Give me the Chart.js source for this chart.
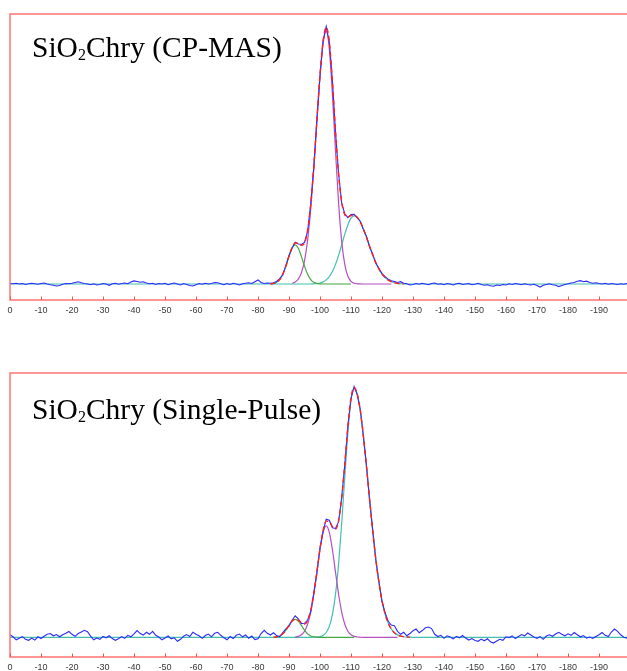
<!DOCTYPE html>
<html><head><meta charset="utf-8">
<script src="https://cdn.jsdelivr.net/npm/chart.js@4.4.1/dist/chart.umd.min.js"></script>
<style>
html,body{margin:0;padding:0;width:627px;height:671px;overflow:hidden;background:#fff;}
#wrap{position:relative;width:627px;height:671px;overflow:hidden;}
canvas{position:absolute;left:0;}
#c1{top:0px;}
#c2{top:359px;}
.ttl{position:absolute;left:32px;font-family:'Liberation Serif','Times New Roman',serif;font-size:29.5px;line-height:30px;color:#000;white-space:nowrap;}
.ttl .sub{font-size:16px;line-height:0;position:relative;top:3px;}
#t1{top:31.7px;}
#t2{top:394.3px;}
</style></head>
<body><div id="wrap">
<canvas id="c1" width="634" height="320"></canvas>
<canvas id="c2" width="634" height="318"></canvas>
<div class="ttl" id="t1">SiO<span class="sub">2</span>Chry (CP-MAS)</div>
<div class="ttl" id="t2">SiO<span class="sub">2</span>Chry (Single-Pulse)</div>
</div>
<script>
// ---------- x grid (ppm) ----------
const range = (a, b) => { const r = []; for (let v = a; v >= b; v--) r.push(v); return r; };
const tickValues = range(0, -200).filter(v => v % 10 === 0);

// ---------- Panel 1 : SiO2Chry (CP-MAS) ----------
const cpDataPpm = range(0, -200);
const cpData = [
 0.2,0.1,0.3,0.0,0.2,-0.2,0.1,0.3,0.1,-0.1,
 0.2,0.4,0.0,-0.3,-0.5,-0.8,-0.6,-0.1,0.2,0.1,
 0.3,0.6,0.9,0.5,0.2,0.0,-0.3,0.1,-0.4,-0.2,
 0.2,0.0,-0.5,0.1,0.3,-0.1,0.2,0.4,0.1,0.8,
 1.2,1.0,0.7,0.9,0.4,0.1,0.3,-0.2,0.2,0.0,
 0.3,-0.3,0.1,0.4,0.0,-0.4,0.2,-0.2,-0.6,-0.8,
 -0.3,0.2,-0.1,0.3,0.0,0.2,0.6,0.5,0.1,-0.3,
 0.2,-0.2,0.3,0.0,-0.4,0.1,0.3,0.5,0.2,0.9,
 1.6,0.6,0.2,0.4,0.3,0.5,1.0,2.1,3.6,7.3,
 11.2,14.1,16.4,15.7,15.5,16.3,20.6,31.3,45.8,64.5,
 81.6,95.4,100.9,94.8,79.7,59.5,43.3,31.7,27.5,26.0,
 27.2,27.3,25.9,24.6,21.3,18.6,14.5,11.7,8.1,6.2,
 4.1,2.9,1.9,1.3,1.0,0.6,0.9,0.3,0.1,-0.4,
 -0.2,0.2,-0.1,0.3,0.0,-0.3,0.2,0.4,-0.1,0.1,
 -0.3,0.2,0.0,-0.4,0.1,0.3,-0.2,0.0,0.2,-0.3,
 -0.1,0.3,-0.2,-0.5,-0.3,-0.7,-0.9,-0.4,-0.6,-0.2,
 -0.4,0.1,-0.2,0.2,0.0,-0.3,0.1,-0.2,-0.4,-0.1,
 -0.6,-1.2,-0.5,-0.2,0.1,-0.3,-0.5,-1.0,-0.6,-0.2,
 0.1,0.4,0.6,1.1,1.3,0.9,1.1,0.6,0.3,0.5,
 0.2,0.0,0.3,-0.1,0.2,0.0,-0.2,0.1,-0.1,0.2,
 0.0];
const cpFitPpm = range(-84, -127);
const cpFit = [0.06,0.22,0.67,1.75,3.82,7.00,10.90,14.30,16.05,15.93,15.16,16.05,20.89,30.96,46.07,64.20,81.90,95.12,100.61,95.11,79.36,59.84,42.93,32.03,27.18,26.27,26.83,27.01,26.16,24.31,21.58,18.30,14.79,11.40,8.39,5.88,3.94,2.51,1.53,0.89,0.49,0.26,0.13,0.06];
const cpGreenPpm = range(-84, -110);
const cpGreen = [0.06,0.22,0.67,1.75,3.82,7.00,10.81,14.03,15.30,14.03,10.81,7.00,3.82,1.75,0.67,0.22,0.06,0,0,0,0,0,0,0,0,0,0];
const cpMagentaPpm = range(-91, -123);
const cpMagenta = [0.27,0.75,1.90,4.35,9.05,17.07,29.21,45.32,63.80,81.44,94.28,99.00,92.20,74.47,52.16,31.69,16.69,7.63,3.02,1.04,0.31,0.08,0.02,0,0,0,0,0,0,0,0,0,0];
const cpTealPpm = [0].concat(range(-97, -128), [-200]);
const cpTeal = [0, 0,0.08,0.18,0.40,0.84,1.61,2.91,4.89,7.68,11.24,15.34,19.55,23.25,25.79,26.70,26.08,24.29,21.58,18.30,14.79,11.40,8.39,5.88,3.94,2.51,1.53,0.89,0.49,0.26,0.13,0.06,0, 0];

// ---------- Panel 2 : SiO2Chry (Single-Pulse) ----------
const spDataPpm = range(0, -200);
const spData = [
 1.0,0.2,-1.0,-0.4,0.3,-0.8,-1.2,-0.3,-1.1,0.2,
 -0.5,0.4,1.2,1.5,0.6,1.1,0.2,1.0,1.6,2.3,
 1.2,0.4,1.5,2.1,2.8,2.2,0.5,-1.0,-0.3,-0.8,
 0.4,-0.2,0.6,-0.5,-1.2,-0.6,0.3,-0.4,0.8,0.2,
 1.4,2.7,1.5,0.9,2.0,1.2,2.4,0.8,0.1,-1.0,
 -0.3,0.5,-0.6,-0.2,-1.6,-0.8,0.4,1.1,0.3,2.0,
 1.2,0.6,-0.4,0.7,1.3,0.2,1.6,2.0,0.8,-0.2,
 -1.0,0.3,-0.5,0.8,1.3,0.2,0.9,-0.4,0.5,-0.9,
 -0.6,1.5,2.8,1.6,0.9,1.8,0.7,0.2,1.9,3.4,
 4.5,6.8,8.6,7.4,5.5,5.6,6.9,10.2,17.8,25.7,
 35.8,42.3,47.2,46.8,43.8,43.5,46.2,55.9,69.0,84.6,
 95.4,100.2,97.0,90.9,80.1,68.5,54.8,42.9,31.0,22.3,
 14.3,9.8,6.4,4.9,4.6,2.4,1.2,2.0,0.6,1.5,
 2.6,3.3,1.8,2.7,3.8,4.1,3.5,1.2,0.3,0.8,
 -0.4,0.6,0.1,-0.6,0.4,-0.2,0.7,-0.3,-1.1,-0.5,
 -1.3,-1.6,-0.7,-1.4,-0.6,-1.8,-2.3,-1.5,-0.8,-1.2,
 0.2,-0.1,0.6,-0.5,0.3,1.1,0.6,1.7,0.9,0.1,
 -0.4,0.3,-0.8,0.5,1.0,0.4,1.3,2.0,1.2,0.6,
 1.4,0.8,1.9,1.0,0.2,0.7,-0.3,0.1,-0.4,0.3,
 1.0,1.9,0.8,0.3,2.1,3.3,2.4,1.0,0.0,-0.3,
 0.4];
const spFitPpm = range(-85, -129);
const spFit = [0.05,0.17,0.54,1.38,2.84,4.76,6.49,7.32,6.85,5.75,5.26,6.61,10.61,17.39,26.20,35.35,42.68,46.41,46.30,44.17,43.21,46.54,55.62,69.35,84.27,95.74,99.86,97.29,90.56,80.44,68.18,55.11,42.50,31.26,21.93,14.68,9.36,5.70,3.31,1.84,0.97,0.49,0.23,0.11,0.05];
const spGreenPpm = range(-85, -111);
const spGreen = [0.05,0.17,0.54,1.38,2.84,4.76,6.49,7.20,6.49,4.76,2.84,1.38,0.54,0.17,0.05,0,0,0,0,0,0,0,0,0,0,0,0];
const spMagentaPpm = range(-92, -125);
const spMagenta = [0.12,0.36,0.99,2.42,5.23,10.07,17.19,26.06,35.08,41.93,44.50,41.93,35.08,26.06,17.19,10.07,5.23,2.42,0.99,0.36,0.12,0.03,0,0,0,0,0,0,0,0,0,0,0,0];
const spTealPpm = [0].concat(range(-97, -130), [-200]);
const spTeal = [0, 0,0.03,0.09,0.27,0.75,1.91,4.37,9.09,17.15,29.35,45.55,64.12,81.85,94.75,99.50,97.17,90.53,80.44,68.18,55.11,42.50,31.26,21.93,14.68,9.36,5.70,3.31,1.84,0.97,0.49,0.23,0.11,0.05,0, 0];

// ---------- styling ----------
const RED = '#ff1f1f', BLUE = '#2b2bff', MAGENTA = '#b54fc0', GREEN = '#45a845', TEAL = '#42bfb2';
const FRAME = 'rgb(255,115,115)';

const pts = (xs, ys) => xs.map((x, i) => ({ x: x, y: ys[i] }));

const framePlugin = {
  id: 'frame',
  afterDraw(chart) {
    const ctx = chart.ctx, a = chart.chartArea, xs = chart.scales.x;
    ctx.save();
    ctx.strokeStyle = FRAME;
    ctx.lineWidth = 1.5;
    ctx.strokeRect(a.left, a.top, a.right - a.left, a.bottom - a.top);
    ctx.strokeStyle = 'rgb(255,80,80)';
    ctx.lineWidth = 1;
    xs.ticks.forEach(t => {
      const px = Math.round(xs.getPixelForValue(t.value)) + 0.5;
      ctx.beginPath(); ctx.moveTo(px, a.bottom); ctx.lineTo(px, a.bottom - 3.5); ctx.stroke();
    });
    ctx.restore();
  }
};

function makeChart(id, s, yMin, yMax) {
  return new Chart(document.getElementById(id), {
    type: 'line',
    data: { datasets: [
      { data: pts(s.fitPpm, s.fit), borderColor: RED, borderWidth: 1.4, borderDash: [5, 3], cubicInterpolationMode: 'monotone' },
      { data: pts(s.dataPpm, s.data), borderColor: BLUE, borderWidth: 1.1 },
      { data: pts(s.greenPpm, s.green), borderColor: GREEN, borderWidth: 1.2, cubicInterpolationMode: 'monotone' },
      { data: pts(s.magentaPpm, s.magenta), borderColor: MAGENTA, borderWidth: 1.2, cubicInterpolationMode: 'monotone' },
      { data: pts(s.tealPpm, s.teal), borderColor: TEAL, borderWidth: 1.2, cubicInterpolationMode: 'monotone' }
    ]},
    options: {
      responsive: false, animation: false, events: [],
      layout: { padding: { left: 10, right: 4, top: 14, bottom: 0 } },
      plugins: { legend: { display: false }, tooltip: { enabled: false } },
      elements: { point: { radius: 0 }, line: { tension: 0, fill: false } },
      scales: {
        x: {
          type: 'linear', reverse: true, min: -200, max: 0,
          afterFit(sc) { sc.height = 20; sc.paddingLeft = 0; sc.paddingRight = 0; },
          afterBuildTicks(sc) { sc.ticks = tickValues.map(v => ({ value: v })); },
          grid: { display: false, drawTicks: false },
          border: { display: false },
          ticks: {
            autoSkip: false, maxRotation: 0, padding: 5, color: '#383838',
            font: { family: "'Liberation Sans Narrow', Arial, sans-serif", size: 9 },
            callback: v => (v < -190 ? '' : String(v))
          }
        },
        y: { display: false, min: yMin, max: yMax }
      }
    },
    plugins: [framePlugin]
  });
}

makeChart('c1', { dataPpm: cpDataPpm, data: cpData, fitPpm: cpFitPpm, fit: cpFit,
  greenPpm: cpGreenPpm, green: cpGreen, magentaPpm: cpMagentaPpm, magenta: cpMagenta,
  tealPpm: cpTealPpm, teal: cpTeal }, -6.27, 105.8);
makeChart('c2', { dataPpm: spDataPpm, data: spData, fitPpm: spFitPpm, fit: spFit,
  greenPpm: spGreenPpm, green: spGreen, magentaPpm: spMagentaPpm, magenta: spMagenta,
  tealPpm: spTealPpm, teal: spTeal }, -7.87, 105.6);
</script>
</body></html>
